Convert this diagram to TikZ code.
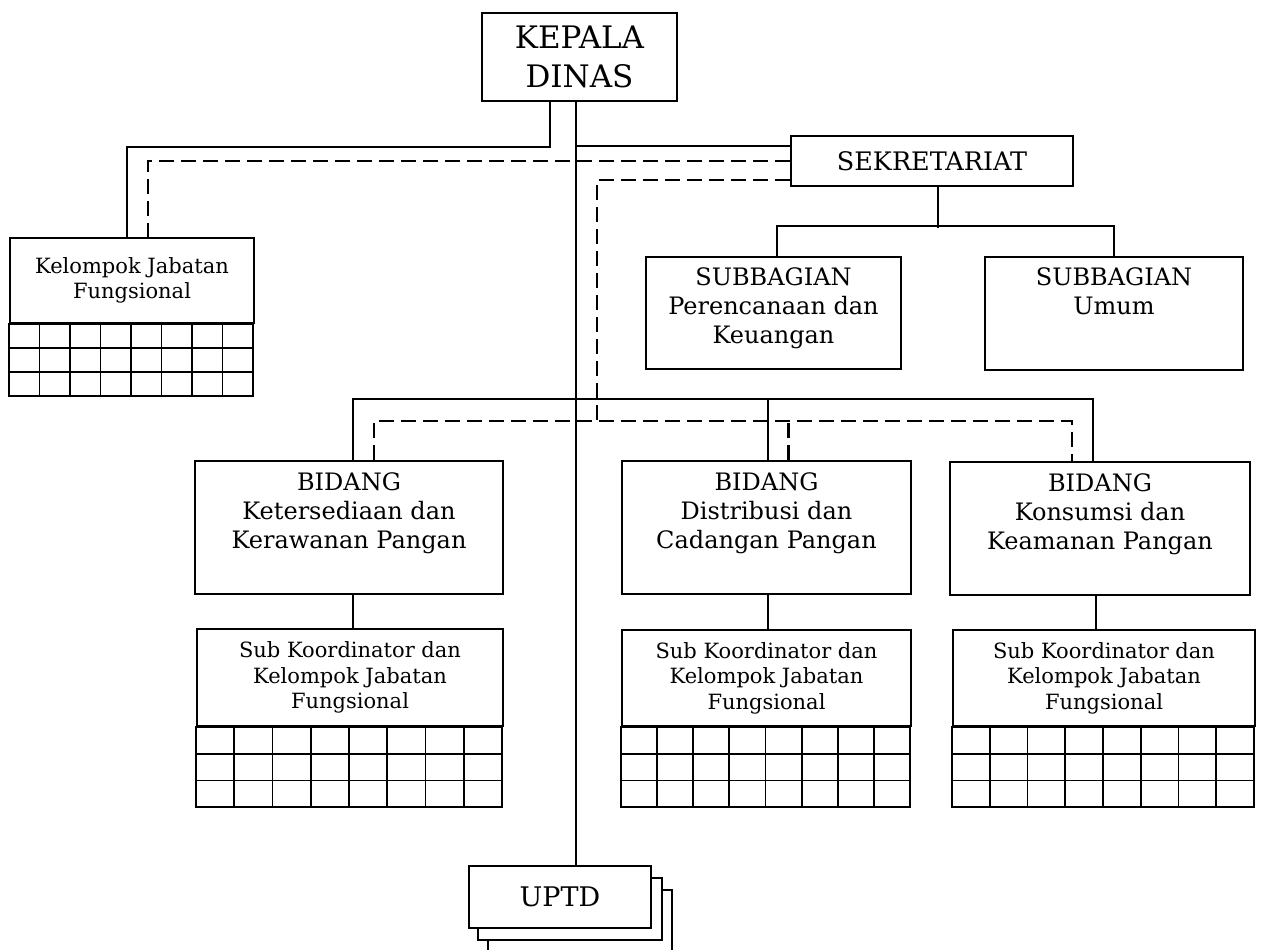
\documentclass[tikz,border=0pt]{standalone}
\usepackage{fontspec}
\setmainfont{DejaVu Serif}
\usetikzlibrary{positioning}
\tikzset{kotak/.style={
    draw, line width=2pt, inner sep=0pt, align=center
  },
  garis/.style={line width=1.8pt},
  putus/.style={line width=2.2pt, dash pattern=on 15pt off 7pt},
  teks besar/.style={font=\fontsize{31}{39}\selectfont},
  teks/.style={font=\fontsize{24}{29}\selectfont, align=center, inner sep=0pt},
  teks kecil/.style={font=\fontsize{21}{25.5}\selectfont},
  pics/kisi/.style 2 args={code={
    \draw[line width=2pt] (0,0) rectangle (#1,3*#2);
    \foreach \k in {1,...,7} \draw[garis] (\k*#1/8,0) -- (\k*#1/8,3*#2);
    \foreach \b in {1,2} \draw[garis] (0,\b*#2) -- (#1,\b*#2);
  }}
}

\begin{document}
\begin{tikzpicture}[x=1pt,y=-1pt]
    \fill[white] (0,0) rectangle (1261,950);
    \useasboundingbox (0,0) rectangle (1261,950);

    \node[kotak, teks besar, minimum width=195, minimum height=88] (kepala) at (579.5,57) {KEPALA\\DINAS};
    \node[kotak, font=\fontsize{25.5}{29}\selectfont, minimum width=282, minimum height=50] (sek) at (932,161) {SEKRETARIAT};

    \node[kotak, teks kecil, minimum width=244, minimum height=85] (kjf) at (132,280.5) {Kelompok Jabatan\\Fungsional};
    \pic at (kjf.south west) {kisi={244}{24}};

    \node[kotak, minimum width=255, minimum height=112] (sbg1) at (773.5,313) {};
    \node[teks, below=11pt of sbg1.north] (sbg1t) {SUBBAGIAN\\Perencanaan dan\\Keuangan};
    \node[kotak, minimum width=258, minimum height=113] (sbg2) at (1114,313.5) {};
    \node[teks, below=11pt of sbg2.north] (sbg2t) {SUBBAGIAN\\Umum};

    \node[kotak, minimum width=308, minimum height=133] (bid1) at (349,527.5) {};
    \node[teks, below=12pt of bid1.north] (bid1t) {BIDANG\\Ketersediaan dan\\Kerawanan Pangan};
    \node[kotak, minimum width=289, minimum height=133] (bid2) at (766.5,527.5) {};
    \node[teks, below=12pt of bid2.north] (bid2t) {BIDANG\\Distribusi dan\\Cadangan Pangan};
    \node[kotak, minimum width=300, minimum height=133] (bid3) at (1100,528.5) {};
    \node[teks, below=12pt of bid3.north] (bid3t) {BIDANG\\Konsumsi dan\\Keamanan Pangan};

    \node[kotak, teks kecil, minimum width=306, minimum height=97] (sk1) at (350,677.5) {Sub Koordinator dan\\Kelompok Jabatan\\Fungsional};
    \pic at (sk1.south west) {kisi={306}{26.7}};
    \node[kotak, teks kecil, minimum width=289, minimum height=96] (sk2) at (766.5,678) {Sub Koordinator dan\\Kelompok Jabatan\\Fungsional};
    \pic at (sk2.south west) {kisi={289}{26.7}};
    \node[kotak, teks kecil, minimum width=302, minimum height=96] (sk3) at (1104,678) {Sub Koordinator dan\\Kelompok Jabatan\\Fungsional};
    \pic at (sk3.south west) {kisi={302}{26.7}};

    % UPTD bertumpuk
    \node[kotak, fill=white, minimum width=184, minimum height=62] (uptd3) at (580,921) {};
    \node[kotak, fill=white, minimum width=184, minimum height=62] (uptd2) at (570,909) {};
    \node[kotak, fill=white, font=\fontsize{27}{32}\selectfont, minimum width=182, minimum height=62] (uptd) at (560,897) {UPTD};

    \coordinate (tulang) at (576,146);
    \coordinate (putus pjg) at (597,422);

    \draw[garis] (kepala.south -| tulang) -- (uptd.north -| tulang);
    \draw[garis] ([xshift=-29.5pt]kepala.south) -- ++(0,45) -| ([xshift=-5pt]kjf.north);
    \draw[garis] (tulang) -- (tulang -| sek.west);
    \draw[putus] (sek.west) -| ([xshift=16pt]kjf.north);
    \draw[putus] ([yshift=-19pt]sek.west) -| (putus pjg);

    \draw[garis] ([xshift=6pt]sek.south) -- ++(0,41);
    \draw[garis] ([xshift=3.5pt]sbg1.north) -- ++(0,-30) -| (sbg2.north);

    \draw[garis] ([xshift=4pt]bid1.north) -- ++(0,-61) -| ([xshift=-7pt]bid3.north);
    \draw[garis] ([xshift=1.5pt]bid2.north) -- ++(0,-61);
    \draw[putus] ([xshift=25pt]bid1.north) -- ++(0,-39) -| ([xshift=-28pt]bid3.north);
    \draw[putus] ([xshift=22pt]bid2.north) -- ++(0,-39);

    \draw[garis] ([xshift=4pt]bid1.south) -- ++(0,35);
    \draw[garis] ([xshift=1.5pt]bid2.south) -- ++(0,36);
    \draw[garis] ([xshift=-4pt]bid3.south) -- ++(0,35);
\end{tikzpicture}
\end{document}
